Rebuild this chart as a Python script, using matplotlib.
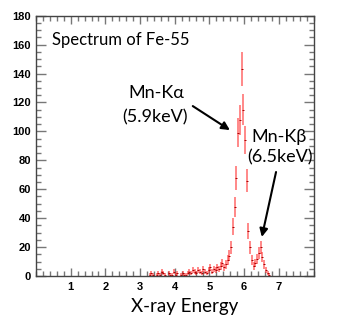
import numpy as np
import matplotlib
matplotlib.use("Agg")
import matplotlib.pyplot as plt
from matplotlib.ticker import MultipleLocator

# Histogram: bin width 0.05 keV starting at 3.2 keV
bin_start = 3.2
bin_width = 0.05
counts = [0, 1, 2, 1, 0, 1, 2, 1, 3, 2,
          1, 0, 2, 1, 1, 3, 1, 2, 0, 1,
          2, 1, 1, 2, 3, 2, 4, 3, 2, 4,
          3, 2, 5, 3, 2, 4, 6, 3, 5, 4,
          6, 5, 7, 9, 6, 8, 11, 14, 20, 34,
          48, 68, 99, 108, 143, 115, 94, 66, 31, 20,
          11, 7, 9, 12, 16, 20, 13, 8, 4, 2,
          1, 0]
xticks = [1, 2, 3, 4, 5, 6, 7]
yticks = [0, 20, 40, 60, 80, 100, 120, 140, 160, 180]

counts = np.array(counts, dtype=float)
centers = bin_start + bin_width * (np.arange(len(counts)) + 0.5)
errs = np.sqrt(counts)

fig = plt.figure(figsize=(3.38, 3.27), dpi=100)
ax = fig.add_axes([36/338, 1-276/327, (313.5-36)/338, (276-15.7)/327])

mask = counts > 0
ax.errorbar(centers[mask], counts[mask], yerr=errs[mask], fmt='none',
            ecolor='#ff2a2a', elinewidth=1.1, alpha=0.7, capsize=0)
ax.plot(centers[mask], counts[mask], linestyle='none', marker='_',
        markersize=1.2, color='#aa0000', markeredgewidth=0.7)

ax.set_xlim(0, 8)
ax.set_ylim(0, 180)
ax.set_xticks(xticks)
ax.set_yticks(yticks)
ax.xaxis.set_minor_locator(MultipleLocator(0.2))
ax.yaxis.set_minor_locator(MultipleLocator(5))
ax.tick_params(which='both', direction='in', top=True, right=True,
               color='#777777', labelsize=8)
ax.tick_params(which='major', length=7, width=1)
ax.tick_params(which='minor', length=3.5, width=1)
ax.tick_params(axis='x', which='major', length=6, pad=4)
for lab in ax.get_xticklabels() + ax.get_yticklabels():
    lab.set_family('Liberation Sans')
    lab.set_fontweight('bold')
for s in ax.spines.values():
    s.set_color('#444444')
    s.set_linewidth(1.0)

fnt = 'Lato'
ax.text(0.46, 163, 'Spectrum of Fe-55', fontsize=12, family=fnt,
        ha='left', va='center')
ax.text(3.46, 126.5, 'Mn-K\u03b1', fontsize=13, family=fnt,
        ha='center', va='center')
ax.text(3.44, 109.9, '(5.9keV)', fontsize=13, family=fnt,
        ha='center', va='center')
ax.text(7.02, 96, 'Mn-K\u03b2', fontsize=13, family=fnt,
        ha='center', va='center')
ax.text(7.02, 82.2, '(6.5keV)', fontsize=13, family=fnt,
        ha='center', va='center')
arrowprops = dict(arrowstyle='-|>', color='black', lw=1.5,
                  mutation_scale=12, shrinkA=0, shrinkB=0)
ax.annotate('', xy=(5.59, 100.9), xytext=(4.52, 117.5), arrowprops=arrowprops)
ax.annotate('', xy=(6.51, 27), xytext=(6.92, 71.9), arrowprops=arrowprops)

ax.set_xlabel('X-ray Energy', fontsize=13.5, family=fnt)
ax.xaxis.set_label_coords((185-36)/277.5, -(298-276)/260.3, transform=ax.transAxes)

fig.savefig('out.png', dpi=100)
